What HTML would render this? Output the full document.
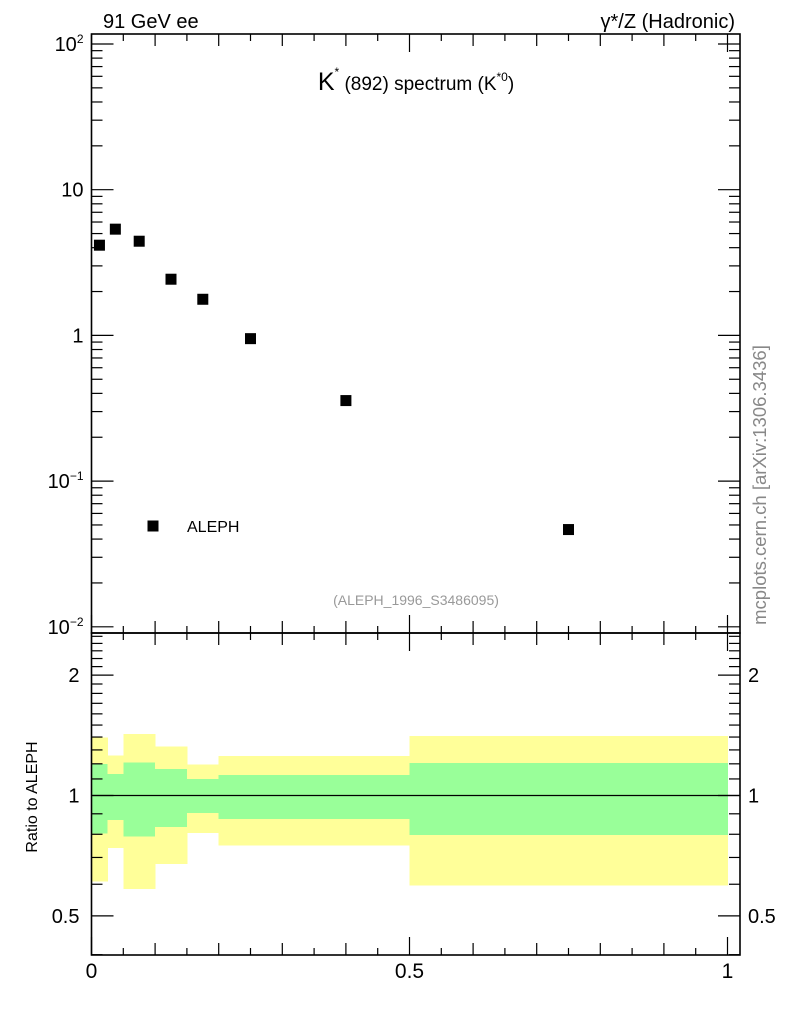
<!DOCTYPE html>
<html><head><meta charset="utf-8"><style>
body{margin:0;background:#fff;}
svg{display:block;font-family:"Liberation Sans",Arial,sans-serif;}
</style></head><body>
<svg id="c" width="786" height="1024" xmlns="http://www.w3.org/2000/svg">
<text x="103" y="28" font-size="20">91 GeV ee</text>
<text x="735" y="28" font-size="20" text-anchor="end">γ*/Z (Hadronic)</text>
<text x="416" y="90" font-size="19" text-anchor="middle"><tspan font-size="25">K</tspan><tspan dy="-14" font-size="12">*</tspan><tspan dy="14"> (892) spectrum (K</tspan><tspan dy="-9" font-size="12">*0</tspan><tspan dy="9">)</tspan></text>
<text x="416" y="605" font-size="14" fill="#999" text-anchor="middle">(ALEPH_1996_S3486095)</text>
<text transform="translate(766,485) rotate(-90)" font-size="18.5" fill="#888" text-anchor="middle">mcplots.cern.ch [arXiv:1306.3436]</text>
<text transform="translate(37,797) rotate(-90)" font-size="16" text-anchor="middle">Ratio to ALEPH</text>
<rect x="147.5" y="520.5" width="11" height="11" fill="#000"/>
<text x="187" y="532" font-size="16">ALEPH</text>
<g id="bands" shape-rendering="crispEdges"></g><g id="marks"></g><g id="axes"></g>
</svg>
<script>
const binEdges=[0,0.025,0.05,0.1,0.15,0.2,0.3,0.5,1.0];
const totUp=[1.398,1.26,1.425,1.327,1.197,1.255,1.255,1.409];
const totDn=[0.609,0.739,0.584,0.675,0.806,0.749,0.749,0.595];
const statUp=[1.199,1.132,1.21,1.165,1.10,1.125,1.125,1.204];
const statDn=[0.803,0.869,0.789,0.835,0.903,0.873,0.873,0.796];
const xCenters=[0.0125,0.0375,0.075,0.125,0.175,0.25,0.4,0.75];
const yValues=[4.16,5.36,4.43,2.43,1.77,0.95,0.357,0.0465];
const yTickLabels=["10<tspan font-size='12' dy='-8'>−2</tspan>","10<tspan font-size='12' dy='-8'>−1</tspan>","1","10","10<tspan font-size='12' dy='-8'>2</tspan>"];
const xTickLabels=["0","0.5","1"];
const rTickVals=[0.5,1,2];

const NS="http://www.w3.org/2000/svg";
const L=91.5,R=740,T=34,B1=633,B2=955;
const X=v=>L+v*636;
const Y=v=>44+(2-Math.log10(v))*145.7;
const RY=v=>795.5-Math.log10(v)*400;
function mk(p,tag,a){const e=document.createElementNS(NS,tag);for(const k in a)e.setAttribute(k,a[k]);p.appendChild(e);return e;}
const bands=document.getElementById('bands'),marks=document.getElementById('marks'),axes=document.getElementById('axes');
for(let i=0;i<totUp.length;i++){
 const x1=X(binEdges[i]),x2=X(binEdges[i+1]);
 let e=mk(bands,'rect',{x:x1,y:RY(totUp[i]),width:x2-x1+0.6,height:RY(totDn[i])-RY(totUp[i]),fill:'#ffff99'});
 
 
 e=mk(bands,'rect',{x:x1,y:RY(statUp[i]),width:x2-x1+0.6,height:RY(statDn[i])-RY(statUp[i]),fill:'#99ff99'});
 
 
}
let ln=mk(axes,'line',{x1:L,x2:R,y1:RY(1),y2:RY(1),stroke:'#000','stroke-width':1.2});


for(let i=0;i<yValues.length;i++){
 const m=mk(marks,'rect',{x:X(xCenters[i])-5.5,y:Y(yValues[i])-5.5,width:11,height:11,fill:'#000'});
 
 
}
function line(x1,y1,x2,y2,w){mk(axes,'line',{x1,y1,x2,y2,stroke:'#000','stroke-width':w||1.2});}
let f=mk(axes,'rect',{x:L,y:T,width:R-L,height:B1-T,fill:'none',stroke:'#000','stroke-width':1.6});


f=mk(axes,'rect',{x:L,y:B1,width:R-L,height:B2-B1,fill:'none',stroke:'#000','stroke-width':1.6});


for(let d=-2;d<=2;d++){for(let k=1;k<=9;k++){const v=k*Math.pow(10,d);const y=Y(v);if(y<T||y>B1)continue;const len=k==1?22:11;line(L,y,L+len,y);line(R,y,R-len,y);}}
for(let d=-2;d<=2;d++){const t=mk(axes,'text',{x:L-8,y:Y(Math.pow(10,d))+7,'font-size':20,'text-anchor':'end'});t.innerHTML=yTickLabels[d+2];
 
 }
for(let i=0;i<=20;i++){const v=i*0.05;const x=X(v);const len=i%2==0?(i%10==0?18:12):7;
 line(x,B1,x,B1-len);line(x,T,x,T+len);line(x,B2,x,B2-len);line(x,B1,x,B1+len);}
xTickLabels.forEach((s,i)=>{const t=mk(axes,'text',{x:X(i*0.5),y:B2+23,'font-size':21,'text-anchor':'middle'});t.textContent=s;
 
 });
for(let i=4;i<=25;i++){const v=i/10;const y=RY(v);if(y<B1||y>B2)continue;const maj=(i==5||i==10||i==20);const len=maj?22:11;line(L,y,L+len,y);line(R,y,R-len,y);}
rTickVals.forEach(v=>{let t=mk(axes,'text',{x:L-12,y:RY(v)+7,'font-size':20,'text-anchor':'end'});t.textContent=String(v);
 
 
 t=mk(axes,'text',{x:R+8,y:RY(v)+7,'font-size':20});t.textContent=String(v);
 
 });
</script>
</body></html>
